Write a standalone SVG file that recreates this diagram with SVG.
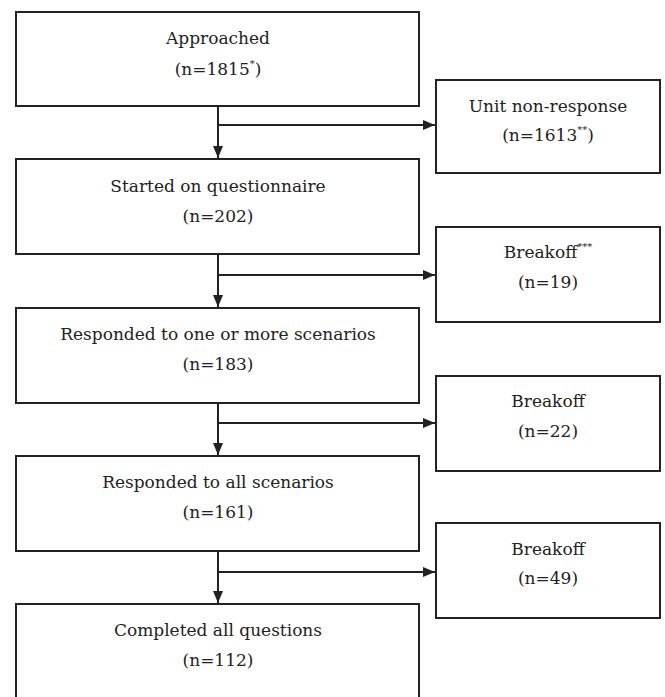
<svg xmlns="http://www.w3.org/2000/svg" width="665" height="697" viewBox="0 0 665 697">
<style>
.box{fill:#fff;stroke:#222;stroke-width:2}
text{font-family:'DejaVu Serif',serif;font-size:17px;fill:#222;text-anchor:middle}
.sup{font-size:10px}
.ln{stroke:#222;stroke-width:2;fill:none}
</style>
<defs>
<marker id="ah" viewBox="0 0 12 10" refX="12" refY="5" markerWidth="12" markerHeight="10" markerUnits="userSpaceOnUse" orient="auto">
<path d="M0,0 L12,5 L0,10 Z" fill="#222"/>
</marker>
</defs>
<rect width="665" height="697" fill="#fff"/>
<g id="connectors">
<path class="ln" d="M218,106 V158" marker-end="url(#ah)"/>
<path class="ln" d="M218,125 H435" marker-end="url(#ah)"/>
<path class="ln" d="M218,254 V307" marker-end="url(#ah)"/>
<path class="ln" d="M218,275 H435" marker-end="url(#ah)"/>
<path class="ln" d="M218,403 V455" marker-end="url(#ah)"/>
<path class="ln" d="M218,423 H435" marker-end="url(#ah)"/>
<path class="ln" d="M218,551 V603" marker-end="url(#ah)"/>
<path class="ln" d="M218,572 H435" marker-end="url(#ah)"/>
</g>
<g id="approached">
<rect class="box" x="16" y="12" width="403" height="94"/>
<text x="218" y="44">Approached</text>
<text x="218" y="75">(n=1815<tspan class="sup" dy="-8">*</tspan><tspan dy="8">)</tspan></text>
</g>
<g id="unit-nonresponse">
<rect class="box" x="436" y="80" width="224" height="93"/>
<text x="548" y="112">Unit non-response</text>
<text x="548" y="141">(n=1613<tspan class="sup" dy="-8">**</tspan><tspan dy="8">)</tspan></text>
</g>
<g id="started">
<rect class="box" x="16" y="159" width="403" height="95"/>
<text x="218" y="192">Started on questionnaire</text>
<text x="218" y="222">(n=202)</text>
</g>
<g id="breakoff1">
<rect class="box" x="436" y="227" width="224" height="95"/>
<text x="548" y="258">Breakoff<tspan class="sup" dy="-8">***</tspan></text>
<text x="548" y="288">(n=19)</text>
</g>
<g id="responded-one">
<rect class="box" x="16" y="308" width="403" height="95"/>
<text x="218" y="340">Responded to one or more scenarios</text>
<text x="218" y="370">(n=183)</text>
</g>
<g id="breakoff2">
<rect class="box" x="436" y="376" width="224" height="95"/>
<text x="548" y="407">Breakoff</text>
<text x="548" y="437">(n=22)</text>
</g>
<g id="responded-all">
<rect class="box" x="16" y="456" width="403" height="95"/>
<text x="218" y="488">Responded to all scenarios</text>
<text x="218" y="518">(n=161)</text>
</g>
<g id="breakoff3">
<rect class="box" x="436" y="523" width="224" height="95"/>
<text x="548" y="555">Breakoff</text>
<text x="548" y="584">(n=49)</text>
</g>
<g id="completed">
<rect class="box" x="16" y="604" width="403" height="110"/>
<text x="218" y="636">Completed all questions</text>
<text x="218" y="666">(n=112)</text>
</g>
</svg>
